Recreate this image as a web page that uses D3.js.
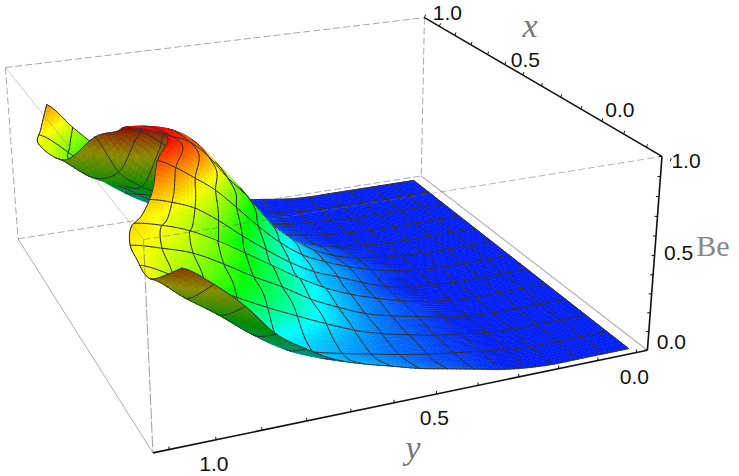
<!DOCTYPE html>
<html>
<head>
<meta charset="utf-8">
<script src="https://cdn.jsdelivr.net/npm/d3@7"></script>
<style>
body { margin: 0; background: #fff; }
</style>
</head>
<body>
<svg id="vis" width="739" height="476"></svg>
<script>
////////////////////////////////////////////////////////////
// DATA
////////////////////////////////////////////////////////////
var xTicks = [1, 0.9, 0.8, 0.7, 0.6, 0.5, 0.4, 0.3, 0.2, 0.1, 0, -0.1, -0.2, -0.3];
var yTicks = [0, 0.1, 0.2, 0.3, 0.4, 0.5, 0.6, 0.7, 0.8, 0.9, 1, 1.1];
var zTicks = [0, 0.1, 0.2, 0.3, 0.4, 0.5, 0.6, 0.7, 0.8, 0.9, 1];
var xLabels = [0, 0.5, 1];
var yLabels = [0, 0.5, 1];
var zLabels = [0, 0.5, 1];

// position of each row across the box, front to back
var rowDepth = [0.02, 0.08, 0.14, 0.20, 0.26, 0.32, 0.38, 0.44, 0.50, 0.56, 0.62, 0.68, 0.74, 0.80, 0.86, 0.92, 0.98];
// how far each row reaches to the left
var rowReach = [0.93, 0.96, 0.96, 0.955, 0.95, 0.93, 0.89, 0.85, 0.82, 0.78, 0.84, 0.85, 0.88, 0.93, 0.97, 0.95, 0.92];
var beValues = [
  [0,0,0,0,.01,.03,.06,.09,.12,.16,.20,.25,.33,.43,.59,.72,.82],
  [0,0,0,0,.01,.03,.05,.07,.10,.13,.16,.20,.26,.36,.49,.60,.72],
  [0,0,0,0,.01,.03,.05,.08,.10,.14,.18,.22,.27,.35,.46,.57,.68],
  [0,0,0,0,.01,.03,.05,.08,.12,.17,.24,.32,.40,.48,.56,.62,.68],
  [0,0,0,0,.01,.03,.06,.09,.13,.19,.26,.35,.43,.52,.60,.65,.69],
  [0,0,0,0,.01,.03,.06,.10,.145,.21,.29,.38,.47,.56,.63,.68,.71],
  [0,0,0,0,.01,.02,.05,.09,.14,.19,.265,.35,.44,.52,.61,.66,.70],
  [0,0,0,0,.01,.02,.05,.10,.155,.21,.285,.38,.48,.59,.67,.72,.75],
  [0,0,0,0,.01,.03,.06,.10,.15,.21,.30,.41,.53,.64,.72,.79,.84],
  [0,0,0,0,.01,.02,.045,.08,.14,.22,.32,.46,.57,.70,.80,.85,.90],
  [0,0,0,0,.01,.025,.04,.08,.13,.22,.35,.53,.68,.81,.88,.91,.92],
  [0,0,0,0,0,.01,.02,.05,.09,.16,.25,.37,.48,.59,.70,.80,.85],
  [0,0,0,0,0,.01,.02,.04,.07,.11,.17,.24,.32,.40,.47,.57,.78],
  [0,0,0,0,0,.01,.02,.03,.06,.09,.13,.19,.26,.36,.44,.50,.62],
  [0,0,0,0,0,.01,.015,.03,.045,.065,.10,.16,.23,.32,.43,.56,.67],
  [0,0,0,0,0,0,.01,.02,.03,.05,.08,.13,.19,.28,.41,.57,.70],
  [0,0,0,0,0,0,.01,.03,.05,.07,.10,.16,.24,.34,.49,.63,.78]
];

////////////////////////////////////////////////////////////
// CONSTANTS
////////////////////////////////////////////////////////////
var svg = d3.select("#vis");
var SUB = 6;       // polygons per data cell
var ROW_MESH = 8;  // polygons between mesh lines front to back
var COL_MESH = 6;  // polygons between mesh lines left to right
var LABEL_FONT = "'Liberation Sans', Arial, sans-serif";
var TITLE_FONT = "'Liberation Serif', 'Times New Roman', serif";

// where the eight box corners sit on the page: [back, left, up, page x, page y]
var boxCorners = [
  [0, 0, 0, 646, 351], [0, 0, 1, 663, 155],
  [1, 0, 0, 423, 176], [1, 0, 1, 423, 18],
  [0, 1, 0, 152, 453], [0, 1, 1, 145, 240],
  [1, 1, 0, 18, 238],  [1, 1, 1, 5, 68]
];

// axis values to box position
var xScale = d3.scaleLinear().domain([1, 0]).range([1, 0.21]);
var yScale = d3.scaleLinear().domain([0, 1]).range([0.025, 0.885]);
var zScale = d3.scaleLinear().domain([0, 1]).range([0, 1]);

var colorScale = d3.scaleLinear()
    .domain([0.02, 0.25, 0.46, 0.68, 0.9])
    .range(["#0420f5", "#00ffff", "#00ff00", "#ffff00", "#ff0000"])
    .clamp(true);

////////////////////////////////////////////////////////////
// PROJECTION
////////////////////////////////////////////////////////////
// least squares fit of a camera to the box corners
function fit_camera(corners) {
    var rows = [], rhs = [];
    corners.forEach(function(c) {
        rows.push([c[0], c[1], c[2], 1, 0, 0, 0, 0, -c[3] * c[0], -c[3] * c[1], -c[3] * c[2]]);
        rhs.push(c[3]);
        rows.push([0, 0, 0, 0, c[0], c[1], c[2], 1, -c[4] * c[0], -c[4] * c[1], -c[4] * c[2]]);
        rhs.push(c[4]);
    });
    var n = 11, a = [];
    for (var i = 0; i < n; i++) {
        a.push([]);
        for (var j = 0; j <= n; j++) {
            var sum = 0;
            for (var k = 0; k < rows.length; k++) {
                sum += rows[k][i] * (j < n ? rows[k][j] : rhs[k]);
            }
            a[i].push(sum);
        }
    }
    for (var c = 0; c < n; c++) {
        var best = c;
        for (var r = c + 1; r < n; r++) {
            if (Math.abs(a[r][c]) > Math.abs(a[best][c])) best = r;
        }
        var tmp = a[c]; a[c] = a[best]; a[best] = tmp;
        for (var r2 = 0; r2 < n; r2++) {
            if (r2 == c) continue;
            var f = a[r2][c] / a[c][c];
            for (var m = c; m <= n; m++) a[r2][m] -= f * a[c][m];
        }
    }
    return a.map(function(row, idx) { return row[n] / row[idx]; });
}

var cam = fit_camera(boxCorners);

function project(u, v, w) {
    var d = cam[8] * u + cam[9] * v + cam[10] * w + 1;
    return [
        (cam[0] * u + cam[1] * v + cam[2] * w + cam[3]) / d,
        (cam[4] * u + cam[5] * v + cam[6] * w + cam[7]) / d,
        d
    ];
}

////////////////////////////////////////////////////////////
// SURFACE
////////////////////////////////////////////////////////////
function spline(p0, p1, p2, p3, t) {
    return 0.5 * (2 * p1 + (p2 - p0) * t + (2 * p0 - 5 * p1 + 4 * p2 - p3) * t * t + (3 * p1 - p0 - 3 * p2 + p3) * t * t * t);
}

function at(list, i) {
    return list[Math.max(0, Math.min(list.length - 1, i))];
}

function refine(list) {
    var out = [];
    for (var i = 0; i < list.length - 1; i++) {
        for (var s = 0; s < SUB; s++) {
            out.push(spline(at(list, i - 1), at(list, i), at(list, i + 1), at(list, i + 2), s / SUB));
        }
    }
    out.push(list[list.length - 1]);
    return out;
}

function make_surface_nodes() {
    var nCol = beValues[0].length;
    var fine = beValues.map(refine);
    var nodes = [];
    var nFine = (nCol - 1) * SUB + 1;
    var depth = refine(rowDepth), reach = refine(rowReach);
    for (var b = 0; b < nFine; b++) {
        var column = refine(fine.map(function(row) { return row[b]; }));
        var t = b / (nFine - 1);
        column.forEach(function(z, a) {
            if (!nodes[a]) nodes[a] = [];
            // only the outer columns follow the left boundary
            var v = 0.03 + 0.9 * t + (reach[a] - 0.93) * t * t * t;
            nodes[a][b] = project(depth[a], v, z);
            nodes[a][b].z = Math.max(0, Math.min(1, z));
        });
    }
    return nodes;
}

function line_path(pts) {
    return "M" + pts.map(function(p) { return p[0].toFixed(2) + "," + p[1].toFixed(2); }).join("L");
}

function draw_surface() {
    var nodes = make_surface_nodes();
    var last = nodes.length - 1;
    var items = [];
    var allDepth = d3.extent(d3.merge(nodes), function(d) { return d[2]; });
    var bias = (allDepth[1] - allDepth[0]) / last * 1.5;
    for (var a = 0; a < last; a++) {
        for (var b = 0; b < last; b++) {
            var p = [nodes[a][b], nodes[a + 1][b], nodes[a + 1][b + 1], nodes[a][b + 1]];
            var depth = d3.mean(p, function(d) { return d[2]; });
            var area = d3.polygonArea(p.map(function(d) { return [d[0], d[1]]; }));
            var zMid = d3.mean(p, function(d) { return d.z; });
            var col = d3.rgb(colorScale(zMid));
            if (area < 0) col = col.darker(1.7);
            items.push({depth: depth, order: 0, d: line_path(p) + "Z", fill: col.formatHex()});
            var edges = [];
            if (a % ROW_MESH == 0) edges.push([p[0], p[3]]);
            if (a + 1 == last) edges.push([p[1], p[2]]);
            if (b % COL_MESH == 0) edges.push([p[0], p[1]]);
            if (b + 1 == last) edges.push([p[3], p[2]]);
            edges.forEach(function(e) {
                // lift the mesh a little so the next polygon does not cover it
                items.push({depth: depth - bias, order: 1, d: line_path(e), fill: "none"});
            });
        }
    }
    // far polygons first
    items.sort(function(m, n) { return d3.descending(m.depth, n.depth) || m.order - n.order; });

    svg.append("g").attr("class", "surface")
        .selectAll("path")
        .data(items)
        .join("path")
        .attr("d", function(d) { return d.d; })
        .attr("fill", function(d) { return d.fill; })
        .attr("stroke", function(d) { return d.order ? "#333" : d.fill; })
        .attr("stroke-width", function(d) { return d.order ? 1 : 0.6; })
        .attr("stroke-linecap", "round");
}

////////////////////////////////////////////////////////////
// BOX AND AXES
////////////////////////////////////////////////////////////
function box_edge(g, a, b, color, width, dash, opacity) {
    g.append("path")
        .attr("d", line_path([project(a[0], a[1], a[2]), project(b[0], b[1], b[2])]))
        .attr("fill", "none")
        .attr("stroke", color)
        .attr("stroke-width", width)
        .attr("stroke-dasharray", dash)
        .attr("opacity", opacity);
}

function draw_back_edges() {
    var g = svg.append("g").attr("class", "back");
    box_edge(g, [1, 1, 1], [1, 0, 1], "#777", 0.8, "7,3", 0.8);
    box_edge(g, [1, 1, 1], [1, 1, 0], "#777", 0.8, "7,3", 0.8);
    box_edge(g, [1, 1, 0], [1, 0, 0], "#777", 0.8, "7,3", 0.8);
    box_edge(g, [1, 0, 1], [1, 0, 0], "#777", 0.8, "7,3", 0.8);
    box_edge(g, [1, 1, 0], [0, 1, 0], "#999", 0.9, null, 0.9);
    box_edge(g, [1, 0, 0], [0, 0, 0], "#aaa", 1.2, null, 0.9);
}

function draw_front_edges() {
    var g = svg.append("g").attr("class", "front");
    box_edge(g, [1, 1, 1], [0, 1, 1], "#777", 0.8, null, 0.45);
    box_edge(g, [0, 1, 1], [0, 0, 1], "#666", 0.8, "7,3", 0.6);
    box_edge(g, [0, 1, 1], [0, 1, 0], "#666", 0.9, "12,2", 0.7);
    // the three axes
    box_edge(g, [1, 0, 1], [0, 0, 1], "#111", 1.6, null, 1);
    box_edge(g, [0, 0, 1], [0, 0, 0], "#111", 1.6, null, 1);
    box_edge(g, [0, 0, 0], [0, 1, 0], "#111", 1.6, null, 1);
}

function draw_tick(g, p, dx, dy) {
    g.append("line")
        .attr("x1", p[0]).attr("y1", p[1])
        .attr("x2", p[0] + dx).attr("y2", p[1] + dy)
        .attr("stroke", "#111")
        .attr("stroke-width", 1);
}

function draw_label(g, p, dx, dy, txt) {
    g.append("text")
        .attr("x", p[0] + dx)
        .attr("y", p[1] + dy)
        .attr("text-anchor", "middle")
        .attr("dominant-baseline", "central")
        .style("font-family", LABEL_FONT)
        .attr("font-size", 21)
        .attr("fill", "#111")
        .text(txt);
}

function draw_axes() {
    var g = svg.append("g").attr("class", "axes");
    var fmt = d3.format(".1f");
    xTicks.forEach(function(t) { draw_tick(g, project(xScale(t), 0, 1), 1, -3); });
    yTicks.forEach(function(t) { draw_tick(g, project(0, yScale(t), 0), 0, -3); });
    zTicks.forEach(function(t) { draw_tick(g, project(0, 0, zScale(t)), -3, 0); });
    xLabels.forEach(function(t) { draw_label(g, project(xScale(t), 0, 1), 18 + 5 * t, t > 0 ? -5 : -12, fmt(t)); });
    yLabels.forEach(function(t) { draw_label(g, project(0, yScale(t), 0), -2, 24, fmt(t)); });
    zLabels.forEach(function(t) { draw_label(g, project(0, 0, zScale(t)), 24, -9 + 13 * t, fmt(t)); });

    g.append("text").attr("x", 530).attr("y", 37)
        .attr("text-anchor", "middle")
        .style("font-family", TITLE_FONT).style("font-style", "italic")
        .attr("font-size", 34).attr("fill", "#777").text("x");
    g.append("text").attr("x", 413).attr("y", 459)
        .attr("text-anchor", "middle")
        .style("font-family", TITLE_FONT).style("font-style", "italic")
        .attr("font-size", 34).attr("fill", "#777").text("y");
    g.append("text").attr("x", 713).attr("y", 256)
        .attr("text-anchor", "middle")
        .style("font-family", TITLE_FONT)
        .attr("font-size", 30).attr("fill", "#888").text("Be");
}

draw_back_edges();
draw_surface();
draw_front_edges();
draw_axes();
</script>
</body>
</html>
